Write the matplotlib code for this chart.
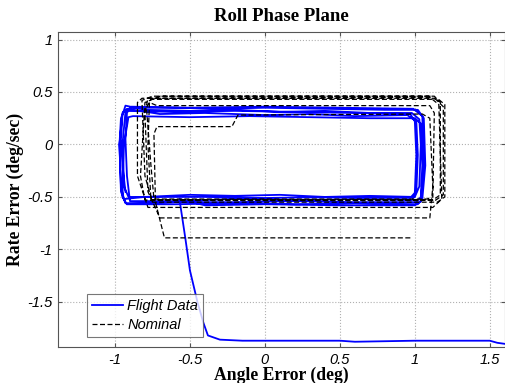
import matplotlib.pyplot as plt

# Flight data trajectory (angle error, rate error)
flight_x = [-0.93, -0.95, -0.96, -0.95, -0.93, -0.80, -0.50, -0.20, 0.10, 0.40, 0.70, 0.98, 1.03, 1.04, 1.03, 1.00,
            0.70, 0.40, 0.10, -0.20, -0.50, -0.80, -0.94, -0.96, -0.97, -0.95, -0.92, -0.70, -0.40, 0.00, 0.30,
            0.60, 0.95, 1.01, 1.02, 1.01, 0.98, 0.60, 0.20, -0.20, -0.60, -0.90, -0.92, -0.93, -0.92, -0.90,
            -0.60, -0.30, 0.00, 0.40, 0.80, 1.02, 1.06, 1.07, 1.05, 1.02, 0.60, 0.20, -0.20, -0.60, -0.92, -0.95,
            -0.94, -0.91, -0.88, -0.50, -0.10, 0.30, 0.70, 1.00, 1.04, 1.05, 1.04, 1.01, 0.60, 0.20, -0.20,
            -0.60, -0.93, -0.96, -0.97, -0.96, -0.94, -0.60, -0.20, 0.20, 0.60, 0.97, 1.00, 1.01, 1.00, 0.97,
            0.50, 0.00, -0.40, -0.91, -0.94, -0.95, -0.93, -0.89, -0.50, 0.00, 0.50, 0.99, 1.05, 1.06, 1.04,
            1.00, 0.50, 0.00, -0.40,
            -0.57, -0.53, -0.50, -0.45, -0.41, -0.38, -0.30, -0.15, 0.20, 0.50, 0.60, 1.00, 1.30, 1.50, 1.55, 1.60]
flight_y = [-0.45, -0.20, 0.05, 0.28, 0.37, 0.33, 0.32, 0.33, 0.31, 0.32, 0.30, 0.30, 0.24, 0.00, -0.40, -0.50,
            -0.49, -0.50, -0.48, -0.49, -0.48, -0.50, -0.52, -0.40, 0.00, 0.30, 0.34, 0.29, 0.30, 0.28, 0.29,
            0.27, 0.28, 0.22, -0.10, -0.45, -0.53, -0.52, -0.53, -0.52, -0.54, -0.54, -0.30, 0.05, 0.30, 0.35,
            0.35, 0.34, 0.35, 0.34, 0.33, 0.33, 0.25, -0.20, -0.52, -0.57, -0.56, -0.57, -0.56, -0.57, -0.57, -0.50,
            0.00, 0.26, 0.27, 0.26, 0.27, 0.26, 0.25, 0.25, 0.20, -0.20, -0.50, -0.55, -0.55, -0.54, -0.55,
            -0.55, -0.56, -0.45, 0.00, 0.25, 0.32, 0.31, 0.32, 0.31, 0.30, 0.29, 0.22, -0.10, -0.46, -0.51,
            -0.50, -0.51, -0.50, -0.50, -0.40, 0.00, 0.31, 0.36, 0.35, 0.36, 0.35, 0.34, 0.27, -0.20, -0.54,
            -0.58, -0.58, -0.57, -0.58,
            -0.52, -0.90, -1.20, -1.50, -1.70, -1.82, -1.86, -1.87, -1.87, -1.87, -1.88, -1.87, -1.87, -1.87, -1.89, -1.90]

# Nominal trajectory
nominal_x = [0.97, -0.67, -0.73, -0.74, -0.72, -0.22, -0.18, 1.05, 1.10, 1.12, 1.10, -0.70, -0.78, -0.80, -0.78,
             1.10, 1.16, 1.18, 1.12, -0.78, -0.85, -0.85, -0.82, 1.15, 1.20, 1.20, 1.15, -0.75, -0.80, -0.82,
             -0.75, 1.13, 1.17, 1.17, 1.12, -0.76, -0.78, -0.77, -0.72, 1.10, 1.13, 1.12, 1.08, -0.74, -0.76,
             -0.79, -0.76, 1.14, 1.19, 1.19, 1.14, -0.80, -0.83, -0.80, -0.70, 1.12]
nominal_y = [-0.89, -0.89, -0.55, 0.10, 0.17, 0.17, 0.28, 0.29, 0.25, -0.40, -0.70, -0.70, -0.45, 0.30, 0.44,
             0.45, 0.38, -0.52, -0.60, -0.60, -0.30, 0.40, 0.44, 0.44, 0.38, -0.50, -0.55, -0.55, -0.30, 0.42,
             0.46, 0.46, 0.40, -0.48, -0.53, -0.53, 0.00, 0.40, 0.37, 0.37, 0.30, -0.50, -0.52, -0.52, -0.20,
             0.35, 0.43, 0.43, 0.36, -0.48, -0.53, -0.53, -0.30, 0.40, 0.46, 0.46]

plt.rcParams['font.family'] = ['Liberation Sans', 'DejaVu Sans']

fig = plt.figure(figsize=(5.06, 3.83), dpi=100)
ax = fig.add_axes([0.1146, 0.094, 0.883, 0.822])

ax.plot(flight_x, flight_y, color='#0000ff', lw=1.3, label='Flight Data')
ax.plot(nominal_x, nominal_y, color='black', lw=0.9, linestyle=(0, (4, 2)), label='Nominal')

ax.set_xlim(-1.38, 1.6)
ax.set_ylim(-1.93, 1.07)
ax.set_xticks([-1, -0.5, 0, 0.5, 1, 1.5])
ax.set_yticks([-1.5, -1, -0.5, 0, 0.5, 1])
ax.set_xticklabels(['-1', '-0.5', '0', '0.5', '1', '1.5'], fontstyle='italic', fontsize=10.5)
ax.set_yticklabels(['-1.5', '-1', '-0.5', '0', '0.5', '1'], fontstyle='italic', fontsize=10.5)
ax.grid(True, linestyle=':', color='#b0b0b0', lw=0.8)
ax.tick_params(direction='in', top=True, right=True, length=3, color='#555555', pad=4)
for s in ax.spines.values():
    s.set_color('#555555')

ax.set_title('Roll Phase Plane', family='Liberation Serif', fontweight='bold', fontsize=13.5, pad=8)
ax.set_xlabel('Angle Error (deg)', family='Liberation Serif', fontweight='bold', fontsize=12.7, labelpad=0)
ax.set_ylabel('Rate Error (deg/sec)', family='Liberation Serif', fontweight='bold', fontsize=12.7, labelpad=2)

leg = ax.legend(loc='lower left', bbox_to_anchor=(0.065, 0.032), prop={'style': 'italic', 'size': 10.5},
                fancybox=False, edgecolor='#555555', handlelength=2.1, borderpad=0.35, labelspacing=0.3,
                handletextpad=0.3, borderaxespad=0)
leg.get_frame().set_linewidth(0.8)

fig.savefig('out.png', dpi=100, facecolor='white')
